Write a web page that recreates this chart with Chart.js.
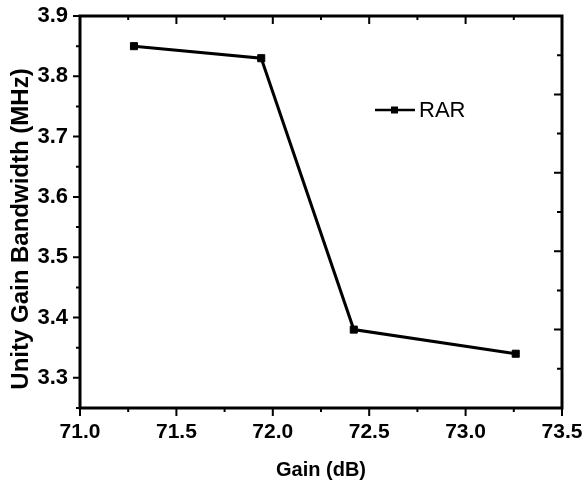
<!DOCTYPE html>
<html lang="en">
<head>
  <meta charset="UTF-8">
  <title>Unity Gain Bandwidth vs Gain</title>
  <script src="https://cdn.jsdelivr.net/npm/chart.js"></script>
  <style>
    body {
      margin: 0;
      padding: 0;
      background: #ffffff;
    }
    #wrap {
      width: 584px;
      height: 485px;
      position: relative;
    }
  </style>
</head>
<body>
  <div id="wrap">
    <canvas id="ugbChart"></canvas>
  </div>

  <script>
    // data
    const gain = [71.28, 71.94, 72.42, 73.26];
    const ugb = [3.85, 3.83, 3.38, 3.34];
    const seriesLabel = 'RAR';
    const yTitle = 'Unity Gain Bandwidth (MHz)';

    // axis ticks
    const xTicks = [71.0, 71.5, 72.0, 72.5, 73.0, 73.5];
    const xMinor = [71.25, 71.75, 72.25, 72.75, 73.25];
    const yTicks = [3.3, 3.4, 3.5, 3.6, 3.7, 3.8, 3.9];
    const yMinor = [3.25, 3.35, 3.45, 3.55, 3.65, 3.75, 3.85];
    // right-hand frame has its own 10 divisions
    const rightMajor = [2, 4, 6, 8];
    const rightMinor = [1, 3, 5, 7, 9];

    const FONT = "'Liberation Sans', Arial, sans-serif";

    // no overhang padding, so the plot box sits where the figure has it
    const noPad = s => {
      s.paddingLeft = 0; s.paddingRight = 0;
      s.paddingTop = 0; s.paddingBottom = 0;
    };

    // frame, tick marks, y title and the in-plot legend
    const framePlugin = {
      id: 'frame',
      afterDraw(chart) {
        const ctx = chart.ctx;
        const a = chart.chartArea;
        const x = chart.scales.x, y = chart.scales.y, y2 = chart.scales.y2;
        ctx.save();
        ctx.strokeStyle = '#000';
        ctx.lineWidth = 3;
        ctx.strokeRect(a.left, a.top, a.right - a.left, a.bottom - a.top);

        ctx.lineWidth = 2;
        ctx.beginPath();
        const hx = (v, len) => {
          const px = x.getPixelForValue(v);
          ctx.moveTo(px, a.bottom); ctx.lineTo(px, a.bottom + len);
          ctx.moveTo(px, a.top); ctx.lineTo(px, a.top + len);
        };
        xTicks.forEach(v => hx(v, 8));
        xMinor.forEach(v => hx(v, 4));
        const vy = (v, len) => {
          const py = y.getPixelForValue(v);
          ctx.moveTo(a.left, py); ctx.lineTo(a.left - len, py);
        };
        yTicks.forEach(v => vy(v, 7));
        yMinor.forEach(v => vy(v, 4));
        const ry = (v, len) => {
          const py = y2.getPixelForValue(v);
          ctx.moveTo(a.right, py); ctx.lineTo(a.right - len, py);
        };
        rightMajor.forEach(v => ry(v, 8));
        rightMinor.forEach(v => ry(v, 5));
        ctx.stroke();

        // y title sits a little below the middle in the figure
        ctx.save();
        ctx.translate(21, (a.top + a.bottom) / 2 + 17);
        ctx.rotate(-Math.PI / 2);
        ctx.fillStyle = '#000';
        ctx.font = 'bold 24px ' + FONT;
        ctx.textAlign = 'center';
        ctx.textBaseline = 'middle';
        ctx.fillText(yTitle, 0, 0);
        ctx.restore();

        // legend
        const lx = 375, ly = 110;
        ctx.lineWidth = 2.5;
        ctx.beginPath();
        ctx.moveTo(lx, ly); ctx.lineTo(lx + 40, ly);
        ctx.stroke();
        ctx.fillStyle = '#000';
        ctx.fillRect(lx + 16, ly - 3.5, 7, 7);
        ctx.font = '22px ' + FONT;
        ctx.textBaseline = 'middle';
        ctx.fillText(seriesLabel, lx + 44, ly + 1);
        ctx.restore();
      }
    };

    new Chart(document.getElementById('ugbChart'), {
      type: 'line',
      data: {
        datasets: [{
          label: seriesLabel,
          data: gain.map((g, i) => ({ x: g, y: ugb[i] })),
          borderColor: '#000',
          backgroundColor: '#000',
          borderWidth: 3,
          pointStyle: 'rect',
          pointRadius: 5,
          pointBorderWidth: 1,
          pointBackgroundColor: '#000',
          pointBorderColor: '#000',
          tension: 0
        }]
      },
      options: {
        responsive: true,
        maintainAspectRatio: false,
        animation: false,
        layout: { padding: { top: 16, right: 22, left: 0, bottom: 0 } },
        plugins: {
          legend: { display: false },
          tooltip: { enabled: false }
        },
        scales: {
          x: {
            type: 'linear',
            min: 71.0,
            max: 73.5,
            afterBuildTicks: s => { s.ticks = xTicks.map(v => ({ value: v })); },
            afterFit: s => { s.height = 77; noPad(s); },
            grid: { display: false, drawTicks: false },
            border: { display: false },
            ticks: {
              color: '#000',
              padding: 12,
              font: { family: FONT, size: 21, weight: 'bold' },
              callback: v => Number(v).toFixed(1)
            },
            title: {
              display: true,
              text: 'Gain (dB)',
              color: '#000',
              font: { family: FONT, size: 20, weight: 'bold' },
              padding: { top: 0, bottom: 3 }
            }
          },
          y: {
            type: 'linear',
            min: 3.25,
            max: 3.9,
            afterBuildTicks: s => { s.ticks = yTicks.map(v => ({ value: v })); },
            afterFit: s => { s.width = 80; noPad(s); },
            grid: { display: false, drawTicks: false },
            border: { display: false },
            ticks: {
              color: '#000',
              padding: 12,
              font: { family: FONT, size: 22, weight: 'bold' },
              callback: v => Number(v).toFixed(1)
            },
            title: { display: false }
          },
          y2: {
            type: 'linear',
            position: 'right',
            min: 0,
            max: 10,
            display: false
          }
        }
      },
      plugins: [framePlugin]
    });
  </script>
</body>
</html>
